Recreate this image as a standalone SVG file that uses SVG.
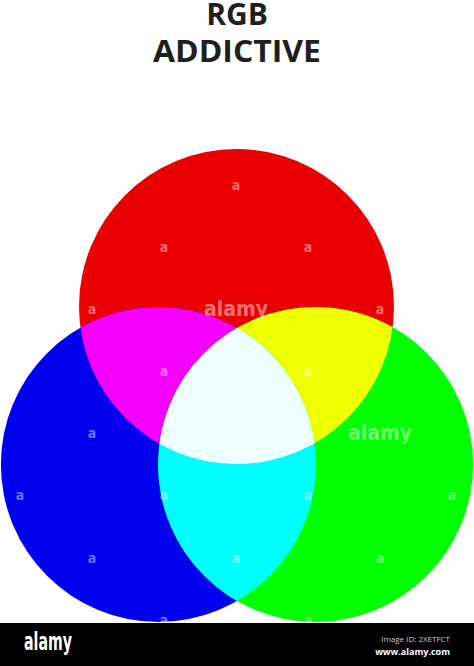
<svg xmlns="http://www.w3.org/2000/svg" width="474" height="666" viewBox="0 0 474 666">
  <style>
    .title { font-family: "Open Sans", "Liberation Sans", sans-serif; font-weight: 700; fill: #1f1f1f; text-anchor: middle; }
    .wm { font-family: "DejaVu Sans Condensed", "DejaVu Sans", sans-serif; font-weight: 700; fill: #ffffff; fill-opacity: 0.45; text-anchor: middle; }
    .a { font-size: 14px; }
    .big { font-size: 21px; }
  </style>
  <defs>
    <circle id="cR" cx="236.5" cy="306.5" r="157.5"/>
    <circle id="cB" cx="158.4" cy="464.5" r="157.5"/>
    <circle id="cG" cx="315.6" cy="464.5" r="157.5"/>
    <clipPath id="clipR"><use href="#cR"/></clipPath>
    <clipPath id="clipB"><use href="#cB"/></clipPath>
    <clipPath id="clipG"><use href="#cG"/></clipPath>
  </defs>
  <rect width="474" height="666" fill="#ffffff"/>

  <g id="title">
    <text class="title" x="237" y="25" font-size="30">RGB</text>
    <text class="title" x="237" y="62" font-size="30" textLength="168" lengthAdjust="spacingAndGlyphs">ADDICTIVE</text>
  </g>

  <g id="red"><use href="#cR" fill="#E90000"/></g>
  <g id="blue"><use href="#cB" fill="#0000EE"/></g>
  <g id="green"><use href="#cG" fill="#00FF00"/></g>
  <g id="magenta" clip-path="url(#clipR)"><use href="#cB" fill="#F500FF"/></g>
  <g id="yellow" clip-path="url(#clipR)"><use href="#cG" fill="#F0FF00"/></g>
  <g id="cyan" clip-path="url(#clipB)"><use href="#cG" fill="#00FFFF"/></g>
  <g id="white" clip-path="url(#clipR)">
    <g clip-path="url(#clipB)"><use href="#cG" fill="#EEFFFF"/></g>
  </g>

  <g id="watermark">
    <text class="wm a" x="236" y="190">a</text>
    <text class="wm a" x="164" y="252">a</text>
    <text class="wm a" x="308" y="252">a</text>
    <text class="wm a" x="92" y="314">a</text>
    <text class="wm big" x="236" y="316">alamy</text>
    <text class="wm a" x="380" y="314">a</text>
    <text class="wm a" x="164" y="376">a</text>
    <text class="wm a" x="308" y="376">a</text>
    <text class="wm a" x="92" y="438">a</text>
    <text class="wm big" x="380" y="440">alamy</text>
    <text class="wm a" x="20" y="500">a</text>
    <text class="wm a" x="164" y="500">a</text>
    <text class="wm a" x="308" y="500">a</text>
    <text class="wm a" x="452" y="500">a</text>
    <text class="wm a" x="92" y="563">a</text>
    <text class="wm a" x="236" y="563">a</text>
    <text class="wm a" x="380" y="563">a</text>
    <text class="wm a" x="164" y="625">a</text>
    <text class="wm a" x="308" y="625">a</text>
  </g>

  <g id="footer">
    <rect x="0" y="623" width="474" height="43" fill="#000000"/>
    <text x="24" y="650" font-family="'DejaVu Sans Condensed', 'DejaVu Sans', sans-serif" font-weight="700" font-size="24" fill="#ffffff" textLength="48" lengthAdjust="spacingAndGlyphs">alamy</text>
    <text x="450" y="642" font-family="'Open Sans', 'Liberation Sans', sans-serif" font-size="8" fill="#cccccc" text-anchor="end">Image ID: 2XETFCT</text>
    <text x="450" y="655" font-family="'Open Sans', 'Liberation Sans', sans-serif" font-weight="700" font-size="9" fill="#ffffff" text-anchor="end">www.alamy.com</text>
  </g>
</svg>
